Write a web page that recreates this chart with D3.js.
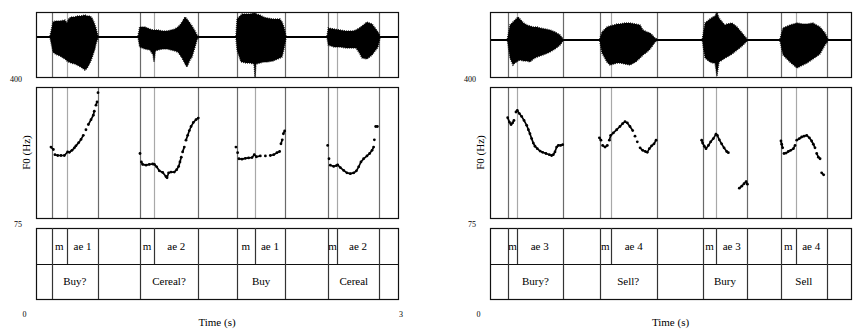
<!DOCTYPE html>
<html>
<head>
<meta charset="utf-8">
<script src="https://cdn.jsdelivr.net/npm/d3@7"></script>
<style>
  body { margin: 0; background: #fff; }
  svg { display: block; }
  text { font-family: "Liberation Serif", "Times New Roman", serif; fill: #000; }
</style>
</head>
<body>
<svg id="chart" width="858" height="329"></svg>
<script>
// ---- data ----
const timeRange = [0, 3];
const f0Range = [75, 400];

// tier boundaries (s) and interval labels
const leftPhoneTimes = [0.130, 0.257, 0.514, 0.859, 0.980, 1.345, 1.666, 1.812, 2.066, 2.422, 2.494, 2.845];
const leftPhoneLabels = ["", "m", "ae 1", "", "m", "ae 2", "", "m", "ae 1", "", "m", "ae 2", ""];
const leftWordTimes = [0.130, 0.514, 0.859, 1.345, 1.666, 2.066, 2.422, 2.845];
const leftWordLabels = ["", "Buy?", "", "Cereal?", "", "Buy", "", "Cereal", ""];

const rightPhoneTimes = [0.152, 0.222, 0.604, 0.912, 1.003, 1.385, 1.768, 1.881, 2.136, 2.418, 2.541, 2.798];
const rightPhoneLabels = ["", "m", "ae 3", "", "m", "ae 4", "", "m", "ae 3", "", "m", "ae 4", ""];
const rightWordTimes = [0.152, 0.604, 0.912, 1.385, 1.768, 2.136, 2.418, 2.798];
const rightWordLabels = ["", "Bury?", "", "Sell?", "", "Bury", "", "Sell", ""];

// waveform envelope per word: [time, upper amplitude, lower amplitude]
const leftAmpRange = [-40, 25];
const leftWave = [
  [[.116,1,1],[.141,15,15],[.160,16,17],[.199,16,19],[.240,17,22],[.257,14,24],[.270,18,25],[.290,20,26],[.323,20,27],[.340,21,28],[.370,21,30],[.406,22,33],[.425,21,31],[.447,21,26],[.464,19,21],[.480,15,15],[.489,12,12],[.497,9,7],[.514,1,1]],
  [[.846,1,1],[.859,10,10],[.903,10,12],[.944,8,13],[.970,7,18],[.978,7,25],[.990,7,14],[1.011,7,13],[1.050,6,12],[1.086,6,12],[1.120,7,13],[1.152,8,14],[1.175,10,15],[1.193,12,18],[1.210,15,21],[1.235,20,27],[1.251,18,30],[1.276,14,23],[1.293,11,20],[1.318,6,10],[1.334,2,3],[1.343,1,1]],
  [[1.657,1,1],[1.666,18,13],[1.699,22,25],[1.707,23,25],[1.740,23,26],[1.773,23,26],[1.807,24,27],[1.815,25,40],[1.823,23,27],[1.856,22,26],[1.885,20,25],[1.914,19,25],[1.964,18,24],[2.022,18,21],[2.039,15,20],[2.055,10,12],[2.072,1,1]],
  [[2.412,1,1],[2.422,9,8],[2.470,8,10],[2.519,7,10],[2.570,6,11],[2.627,6,11],[2.652,7,11],[2.680,9,16],[2.702,11,21],[2.743,15,22],[2.785,13,18],[2.810,9,14],[2.834,5,10],[2.851,1,1]]
];
const rightAmpRange = [-37, 28];
const rightWave = [
  [[.145,1,1],[.166,15,18],[.191,18,25],[.208,20,23],[.233,23,21],[.249,21,20],[.280,17,21],[.307,15,21],[.332,14,22],[.360,13,19],[.391,13,17],[.416,12,16],[.460,11,14],[.499,10,12],[.540,8,9],[.582,5,5],[.607,1,1]],
  [[.912,1,1],[.931,8,13],[.972,13,22],[.997,14,25],[1.030,15,24],[1.055,16,23],[1.080,16,23],[1.120,17,24],[1.163,17,25],[1.210,16,22],[1.247,15,18],[1.271,10,15],[1.305,8,12],[1.330,7,9],[1.355,4,5],[1.371,2,2],[1.388,1,1]],
  [[1.765,1,1],[1.787,17,18],[1.828,21,22],[1.853,23,23],[1.870,24,23],[1.886,28,36],[1.903,22,22],[1.930,18,20],[1.953,15,18],[1.970,16,17],[2.011,17,14],[2.053,13,10],[2.095,7,6],[2.136,1,1]],
  [[2.410,1,1],[2.435,12,15],[2.493,15,22],[2.551,17,28],[2.601,16,25],[2.635,16,23],[2.684,17,19],[2.742,13,14],[2.784,7,5],[2.809,1,1]]
];

// pitch track: [time (s), F0 (Hz)]
const leftF0 = [
  [.124,251],[.144,245],[.157,232],[.180,230],[.207,230],[.235,230],[.262,239],[.276,238],[.298,243],[.318,249],[.331,254],[.354,262],[.373,270],[.392,280],[.414,294],[.434,307],[.456,319],[.475,330],[.483,340],[.497,355],[.506,363],[.514,386],
  [.862,235],[.873,214],[.884,208],[.912,206],[.939,208],[.967,209],[.981,208],[1.000,202],[1.022,192],[1.050,188],[1.077,178],[1.086,175],[1.099,187],[1.119,189],[1.146,189],[1.166,195],[1.182,203],[1.193,214],[1.204,226],[1.215,239],[1.229,251],[1.243,268],[1.257,280],[1.271,292],[1.285,302],[1.304,312],[1.326,319],[1.345,323],
  [1.657,251],[1.671,237],[1.682,222],[1.707,221],[1.735,223],[1.762,224],[1.790,225],[1.809,232],[1.826,227],[1.859,229],[1.901,229],[1.942,230],[1.970,232],[1.997,237],[2.019,240],[2.030,259],[2.041,269],[2.050,284],[2.061,291],
  [2.417,255],[2.428,222],[2.439,206],[2.467,203],[2.489,205],[2.500,207],[2.522,200],[2.550,193],[2.577,187],[2.605,185],[2.633,187],[2.655,192],[2.674,202],[2.693,214],[2.715,222],[2.743,229],[2.765,235],[2.785,243],[2.798,251],[2.804,269],[2.815,302],[2.829,302]
];
const rightF0 = [
  [.147,324],[.161,313],[.175,307],[.188,311],[.199,317],[.216,338],[.227,342],[.244,334],[.263,327],[.283,317],[.305,305],[.319,294],[.332,284],[.346,272],[.360,261],[.374,253],[.393,247],[.416,241],[.438,238],[.465,235],[.493,232],[.512,230],[.526,232],[.540,239],[.554,251],[.568,255],[.587,255],[.604,257],
  [.909,274],[.922,268],[.936,255],[.956,251],[.975,255],[.992,268],[1.003,280],[1.025,286],[1.053,294],[1.080,302],[1.102,309],[1.122,314],[1.141,311],[1.163,302],[1.186,292],[1.205,278],[1.224,264],[1.247,249],[1.269,243],[1.291,240],[1.307,238],[1.324,247],[1.343,254],[1.363,259],[1.380,268],
  [1.759,268],[1.767,261],[1.781,253],[1.795,247],[1.815,255],[1.834,264],[1.856,272],[1.878,283],[1.889,280],[1.906,269],[1.925,259],[1.945,249],[1.967,240],[1.981,237],
  [2.072,149],[2.092,154],[2.111,160],[2.128,165],[2.139,159],
  [2.418,266],[2.424,258],[2.432,249],[2.443,235],[2.460,236],[2.479,240],[2.499,243],[2.521,247],[2.535,255],[2.549,268],[2.571,272],[2.590,276],[2.610,278],[2.632,280],[2.654,274],[2.673,266],[2.687,258],[2.701,249],[2.715,235],[2.729,226],[2.743,222],[2.756,187],[2.773,182]
];

// ---- layout ----
const waveBox = [12, 77];
const f0Box = [87, 218];
const tierBox = [228, 264, 299];

const panels = [
  { x0: 36, x1: 398, phoneTimes: leftPhoneTimes, phoneLabels: leftPhoneLabels,
    wordTimes: leftWordTimes, wordLabels: leftWordLabels, wave: leftWave, ampRange: leftAmpRange,
    f0: leftF0, endLabel: "3" },
  { x0: 490, x1: 851, phoneTimes: rightPhoneTimes, phoneLabels: rightPhoneLabels,
    wordTimes: rightWordTimes, wordLabels: rightWordLabels, wave: rightWave, ampRange: rightAmpRange,
    f0: rightF0, endLabel: null }
];

const svg = d3.select("#chart");

function drawPanel(p) {
  const g = svg.append("g");
  const x = d3.scaleLinear().domain(timeRange).range([p.x0, p.x1]);
  const yA = d3.scaleLinear().domain(p.ampRange).range([waveBox[1], waveBox[0]]);
  const yF = d3.scaleLinear().domain(f0Range).range([f0Box[1], f0Box[0]]);
  const px = t => Math.round(x(t)) + 0.5;

  // boundary lines through the waveform and pitch boxes (under the marks)
  const wordSet = new Set(p.wordTimes);
  [waveBox, f0Box].forEach(box => {
    g.selectAll(null).data(p.phoneTimes).join("line")
      .attr("x1", px).attr("x2", px)
      .attr("y1", box[0]).attr("y2", box[1])
      .attr("stroke", d => wordSet.has(d) ? "#6a6a6a" : "#a8a8a8")
      .attr("stroke-width", 1.2);
  });

  // waveform
  g.append("line")
    .attr("x1", x(timeRange[0])).attr("x2", x(timeRange[1]))
    .attr("y1", yA(0)).attr("y2", yA(0))
    .attr("stroke", "#000").attr("stroke-width", 2);

  const area = d3.area()
    .x(d => x(d[0]))
    .y0(d => yA(-d[2]))
    .y1(d => yA(d[1]));
  g.selectAll(".wave").data(p.wave).join("path")
    .attr("class", "wave")
    .attr("d", area)
    .attr("fill", "#000")
    .attr("stroke", "#000").attr("stroke-width", 1.4)
    .attr("stroke-dasharray", "0.8 1.2");

  // pitch track: dots, with short links where the track is dense
  const runs = [];
  let cur = [];
  p.f0.forEach((d, i) => {
    if (i > 0) {
      const q = p.f0[i - 1];
      if (d[0] - q[0] > 0.035 || Math.abs(d[1] - q[1]) > 12) { runs.push(cur); cur = []; }
    }
    cur.push(d);
  });
  runs.push(cur);
  const line = d3.line().x(d => x(d[0])).y(d => yF(d[1]));
  g.selectAll(".f0run").data(runs.filter(r => r.length > 1)).join("path")
    .attr("class", "f0run")
    .attr("d", line)
    .attr("fill", "none").attr("stroke", "#000").attr("stroke-width", 1.7);
  g.selectAll(".f0dot").data(p.f0).join("circle")
    .attr("class", "f0dot")
    .attr("cx", d => x(d[0])).attr("cy", d => yF(d[1]))
    .attr("r", 1.4).attr("fill", "#000");

  // boxes
  const boxes = [[waveBox[0], waveBox[1]], [f0Box[0], f0Box[1]], [tierBox[0], tierBox[2]]];
  boxes.forEach(b => {
    g.append("rect")
      .attr("x", Math.round(x(timeRange[0])) + 0.5).attr("y", b[0] + 0.5)
      .attr("width", Math.round(x(timeRange[1]) - x(timeRange[0])))
      .attr("height", b[1] - b[0])
      .attr("fill", "none").attr("stroke", "#111").attr("stroke-width", 1.2);
  });
  g.append("line")
    .attr("x1", x(timeRange[0])).attr("x2", x(timeRange[1]))
    .attr("y1", tierBox[1] + 0.5).attr("y2", tierBox[1] + 0.5)
    .attr("stroke", "#111").attr("stroke-width", 1.2);

  // tiers
  function drawTier(times, labels, y0, y1) {
    g.selectAll(null).data(times).join("line")
      .attr("x1", px).attr("x2", px)
      .attr("y1", y0).attr("y2", y1)
      .attr("stroke", "#333").attr("stroke-width", 1.2);
    const bounds = [timeRange[0], ...times, timeRange[1]];
    g.selectAll(null).data(labels).join("text")
      .attr("x", (d, i) => (x(bounds[i]) + x(bounds[i + 1])) / 2)
      .attr("y", (y0 + y1) / 2 + 1)
      .attr("text-anchor", "middle")
      .attr("dominant-baseline", "middle")
      .attr("font-size", 11)
      .text(d => d);
  }
  drawTier(p.phoneTimes, p.phoneLabels, tierBox[0], tierBox[1]);
  drawTier(p.wordTimes, p.wordLabels, tierBox[1], tierBox[2]);

  // axis marks and titles
  const mark = (tx, ty, label) => g.append("text").attr("x", tx).attr("y", ty)
    .attr("text-anchor", "middle").attr("dominant-baseline", "middle")
    .attr("font-size", 8).attr("fill", "#333").text(label);
  mark(p.x0 - 20, yF(f0Range[1]) - 7, f0Range[1]);
  mark(p.x0 - 18, yF(f0Range[0]) + 7, f0Range[0]);
  mark(p.x0 - 11.5, 315, timeRange[0]);
  if (p.endLabel) mark(p.x1 + 3, 315, p.endLabel);

  g.append("text")
    .attr("transform", `translate(${p.x0 - 6},${(f0Box[0] + f0Box[1]) / 2}) rotate(-90)`)
    .attr("text-anchor", "middle").attr("font-size", 11)
    .text("F0 (Hz)");
  g.append("text")
    .attr("x", (p.x0 + p.x1) / 2).attr("y", 323)
    .attr("text-anchor", "middle").attr("dominant-baseline", "middle")
    .attr("font-size", 11)
    .text("Time (s)");
}

panels.forEach(drawPanel);
</script>
</body>
</html>
